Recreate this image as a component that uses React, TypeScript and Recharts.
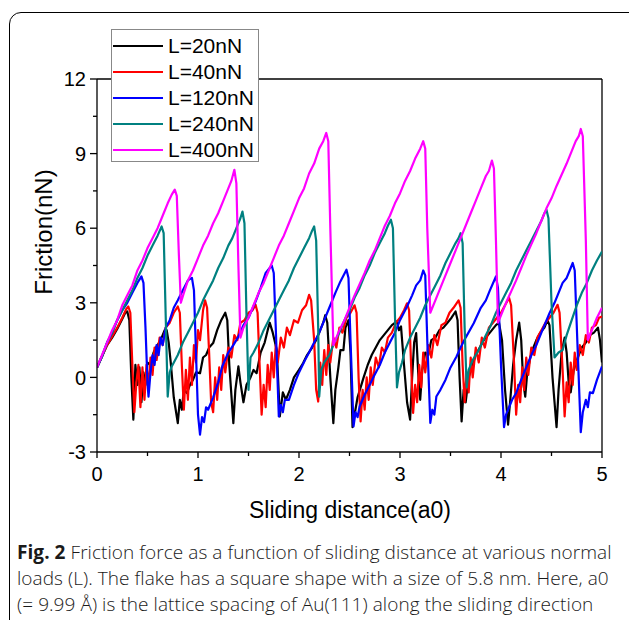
import * as React from 'react';
import { LineChart, Line, XAxis, YAxis, ReferenceLine } from 'recharts';

// friction traces, [sliding distance (a0), friction (nN)]
const load20: [number, number][] = [
  [0, 0.4], [0.05, 0.85], [0.1, 1.3], [0.15, 1.6], [0.2, 1.95], [0.25, 2.35], [0.28, 2.6], [0.3, 2.65], [0.32, 2.3], [0.34, 0.0],
  [0.36, -1.7], [0.38, 0.5], [0.4, -0.3], [0.42, 0.4], [0.44, -1.0], [0.46, 0.2], [0.48, -0.3], [0.5, 0.6], [0.53, 0.5], [0.56, 1.0],
  [0.59, 1.24], [0.63, 1.5], [0.67, 1.9], [0.69, 1.9], [0.71, 1.4], [0.73, 0.6], [0.76, -0.8], [0.8, -1.84], [0.82, -0.9], [0.84, -1.3],
  [0.86, -0.5], [0.89, -0.63], [0.92, -0.3], [0.95, -0.1], [0.98, 0.2], [1.02, 0.17], [1.05, 0.8], [1.08, 0.9], [1.11, 1.2], [1.15, 1.38],
  [1.19, 1.9], [1.23, 2.3], [1.27, 2.6], [1.29, 2.3], [1.31, 0.5], [1.35, -1.84], [1.37, -0.5], [1.4, 0.44], [1.42, -0.2], [1.45, -1.0],
  [1.48, -0.3], [1.52, 0.0], [1.55, 0.3], [1.58, 0.17], [1.62, 1.0], [1.66, 1.4], [1.69, 1.9], [1.71, 2.2], [1.74, 1.8], [1.78, 1.1],
  [1.81, -1.57], [1.84, -0.6], [1.87, -0.9], [1.91, -0.5], [1.95, 0.0], [2.0, 0.3], [2.04, 0.57], [2.08, 0.9], [2.13, 1.2], [2.17, 1.5],
  [2.21, 1.9], [2.24, 2.2], [2.26, 2.5], [2.28, 2.2], [2.31, 0.0], [2.34, -1.84], [2.36, -0.5], [2.39, 0.4], [2.41, 1.1], [2.44, 1.1],
  [2.46, 2.0], [2.49, 2.3], [2.51, 1.0], [2.53, -2.0], [2.55, -1.5], [2.58, -0.8], [2.61, -0.4], [2.64, 0.0], [2.68, 0.5], [2.72, 0.9],
  [2.76, 1.2], [2.8, 1.5], [2.84, 1.7], [2.88, 1.9], [2.92, 2.1], [2.97, 2.25], [2.99, 1.9], [3.01, 2.05], [3.04, 0.5], [3.07, -1.0],
  [3.1, -1.7], [3.12, 0.0], [3.14, 1.4], [3.16, 1.78], [3.18, 0.2], [3.2, -0.9], [3.22, 0.3], [3.25, 1.0], [3.28, 0.9], [3.31, 1.5],
  [3.35, 1.6], [3.39, 1.9], [3.43, 2.0], [3.47, 2.2], [3.51, 2.4], [3.55, 2.65], [3.57, 2.3], [3.59, 0.0], [3.61, -1.77], [3.63, -0.5],
  [3.65, -1.0], [3.68, 0.0], [3.71, 0.4], [3.75, 0.9], [3.79, 1.2], [3.83, 1.5], [3.87, 1.7], [3.91, 1.9], [3.95, 2.1], [3.98, 2.2],
  [4.01, 1.5], [4.04, -0.5], [4.07, -1.9], [4.09, -1.0], [4.12, 0.5], [4.15, 1.5], [4.18, 2.2], [4.2, 1.5], [4.22, -0.2], [4.24, -0.77],
  [4.26, 0.2], [4.29, 0.8], [4.32, 1.2], [4.35, 1.5], [4.39, 1.8], [4.43, 2.0], [4.46, 2.3], [4.48, 2.1], [4.51, 0.0], [4.53, -1.0],
  [4.55, -2.0], [4.57, -0.5], [4.6, 1.0], [4.63, 1.6], [4.65, 1.0], [4.67, -0.2], [4.69, -0.6], [4.72, 0.3], [4.76, 0.8], [4.8, 1.2],
  [4.84, 1.4], [4.88, 1.7], [4.92, 1.8], [4.96, 2.0], [4.98, 1.5], [5.0, 0.6],
];

const load40: [number, number][] = [
  [0, 0.4], [0.05, 0.85], [0.1, 1.3], [0.15, 1.65], [0.2, 2.0], [0.25, 2.4], [0.29, 2.75], [0.31, 2.85], [0.33, 2.6], [0.35, 0.5],
  [0.37, -1.4], [0.39, -0.2], [0.41, 0.5], [0.43, -1.2], [0.45, 0.4], [0.47, -0.9], [0.49, 0.5], [0.51, -0.4], [0.53, 0.8], [0.55, 0.1],
  [0.57, 1.2], [0.59, 0.7], [0.62, 1.6], [0.65, 1.3], [0.68, 2.0], [0.72, 2.2], [0.76, 2.6], [0.8, 2.85], [0.82, 2.6], [0.84, 0.5],
  [0.86, -1.3], [0.88, 0.3], [0.9, -0.9], [0.92, 0.8], [0.94, -0.3], [0.96, 1.3], [0.98, 0.6], [1.0, 1.9], [1.02, 1.5], [1.05, 2.7],
  [1.07, 3.1], [1.09, 2.8], [1.11, 1.0], [1.13, -1.0], [1.15, -1.4], [1.17, 0.0], [1.19, -0.9], [1.21, 0.4], [1.23, -0.5], [1.25, 0.9],
  [1.27, 0.2], [1.3, 1.2], [1.33, 0.8], [1.36, 1.7], [1.39, 1.5], [1.42, 2.2], [1.46, 2.3], [1.5, 2.6], [1.54, 2.7], [1.57, 2.92],
  [1.59, 2.6], [1.61, 0.5], [1.63, -1.5], [1.65, -0.3], [1.67, -1.2], [1.69, 0.5], [1.71, -0.5], [1.73, 1.0], [1.75, 0.0], [1.77, 1.3],
  [1.79, 0.6], [1.82, 1.6], [1.85, 1.2], [1.88, 2.0], [1.91, 1.7], [1.95, 2.3], [1.99, 2.2], [2.03, 2.7], [2.07, 2.9], [2.1, 3.32],
  [2.12, 3.1], [2.15, 1.5], [2.17, -0.5], [2.19, -0.97], [2.21, 0.6], [2.23, -0.3], [2.25, 1.1], [2.27, 0.1], [2.29, 1.3], [2.31, 0.6],
  [2.34, 1.6], [2.37, 1.2], [2.4, 2.0], [2.43, 1.8], [2.47, 2.4], [2.51, 2.6], [2.55, 2.9], [2.57, 2.6], [2.59, 0.0], [2.61, -1.77],
  [2.63, -0.5], [2.65, -1.3], [2.67, 0.0], [2.69, -0.9], [2.71, 0.4], [2.73, -0.3], [2.76, 0.8], [2.79, 0.4], [2.82, 1.2], [2.85, 1.0],
  [2.88, 1.6], [2.92, 1.8], [2.96, 2.2], [3.0, 2.4], [3.04, 2.7], [3.07, 2.98], [3.09, 2.7], [3.11, 0.5], [3.13, -1.43], [3.15, -0.3],
  [3.17, -1.0], [3.19, 0.5], [3.21, -0.4], [3.23, 1.0], [3.25, 0.2], [3.28, 1.3], [3.31, 0.8], [3.34, 1.7], [3.37, 1.3], [3.41, 2.1],
  [3.45, 2.2], [3.49, 2.6], [3.53, 2.8], [3.58, 3.1], [3.6, 2.8], [3.62, 0.5], [3.64, -1.0], [3.66, 0.2], [3.68, -0.6], [3.7, 0.8],
  [3.72, 0.0], [3.75, 1.2], [3.78, 0.6], [3.81, 1.6], [3.84, 1.2], [3.88, 2.0], [3.92, 2.2], [3.96, 2.4], [4.0, 2.6], [4.04, 2.9],
  [4.08, 3.2], [4.1, 2.9], [4.13, 0.5], [4.15, -1.5], [4.17, -0.3], [4.19, -1.0], [4.21, 0.4], [4.23, -0.5], [4.25, 0.8], [4.27, 0.1],
  [4.3, 1.2], [4.33, 0.9], [4.36, 1.6], [4.4, 1.9], [4.44, 2.2], [4.48, 2.4], [4.52, 2.6], [4.56, 2.92], [4.58, 2.6], [4.61, 0.3],
  [4.63, -1.57], [4.65, -0.2], [4.67, -1.0], [4.69, 0.6], [4.71, -0.3], [4.73, 1.0], [4.75, 0.3], [4.78, 1.3], [4.81, 0.9], [4.84, 1.7],
  [4.87, 1.4], [4.9, 2.0], [4.94, 2.1], [4.97, 2.4], [5.0, 2.45],
];

const load120: [number, number][] = [
  [0, 0.4], [0.05, 0.85], [0.1, 1.4], [0.15, 1.8], [0.2, 2.3], [0.25, 2.7], [0.3, 3.0], [0.35, 3.4], [0.4, 3.8], [0.44, 4.06],
  [0.46, 3.8], [0.48, 2.0], [0.5, -0.2], [0.51, -0.77], [0.53, 0.2], [0.55, 0.9], [0.57, 0.5], [0.59, 1.3], [0.61, 0.9], [0.63, 1.6],
  [0.65, 1.3], [0.68, 2.0], [0.72, 2.3], [0.76, 2.8], [0.8, 3.1], [0.85, 3.5], [0.9, 3.9], [0.94, 4.0], [0.96, 3.5], [0.98, 1.0],
  [1.0, -1.5], [1.02, -2.3], [1.04, -1.6], [1.06, -1.8], [1.08, -1.2], [1.1, -1.3], [1.15, -0.8], [1.2, -0.2], [1.24, 0.44], [1.3, 1.0],
  [1.35, 1.3], [1.4, 1.64], [1.45, 2.1], [1.5, 2.4], [1.57, 3.05], [1.62, 3.6], [1.67, 4.2], [1.73, 4.5], [1.75, 4.2], [1.77, 2.0],
  [1.8, -1.57], [1.82, -1.1], [1.84, -1.4], [1.86, -0.9], [1.9, -0.9], [1.95, -0.3], [2.0, 0.2], [2.06, 0.7], [2.1, 1.0], [2.15, 1.4],
  [2.2, 1.8], [2.25, 2.3], [2.3, 2.8], [2.36, 3.4], [2.41, 3.86], [2.47, 4.33], [2.49, 4.0], [2.51, 1.5], [2.54, -1.97], [2.56, -1.4],
  [2.58, -1.6], [2.6, -1.17], [2.65, -0.7], [2.7, -0.3], [2.74, 0.04], [2.8, 0.5], [2.85, 1.0], [2.9, 1.4], [2.95, 1.8], [3.0, 2.3],
  [3.07, 2.85], [3.12, 3.3], [3.16, 3.7], [3.2, 3.9], [3.23, 4.3], [3.25, 4.1], [3.27, 1.5], [3.3, -1.83], [3.32, -1.3], [3.34, -1.5],
  [3.36, -0.77], [3.4, -0.5], [3.45, -0.1], [3.5, 0.4], [3.56, 0.84], [3.6, 1.2], [3.65, 1.6], [3.73, 2.18], [3.8, 2.8], [3.85, 3.1],
  [3.89, 3.5], [3.95, 4.06], [3.97, 3.6], [4.0, 0.5], [4.03, -2.0], [4.05, -1.5], [4.08, -1.2], [4.11, -0.9], [4.15, -0.63], [4.2, -0.1],
  [4.25, 0.4], [4.31, 0.98], [4.35, 1.3], [4.4, 1.8], [4.48, 2.58], [4.53, 3.0], [4.57, 3.4], [4.61, 3.8], [4.65, 4.0], [4.68, 4.3],
  [4.71, 4.6], [4.73, 4.3], [4.76, 1.0], [4.79, -2.2], [4.81, -1.4], [4.84, -0.9], [4.86, -1.2], [4.88, -0.6], [4.91, -0.63], [4.95, -0.1],
  [5.0, 0.44],
];

const load240: [number, number][] = [
  [0, 0.4], [0.05, 0.85], [0.1, 1.4], [0.15, 1.8], [0.2, 2.3], [0.25, 2.7], [0.3, 3.1], [0.35, 3.5], [0.4, 4.0], [0.45, 4.4],
  [0.5, 4.9], [0.55, 5.3], [0.6, 5.7], [0.64, 6.07], [0.66, 5.8], [0.68, 2.5], [0.7, -0.77], [0.72, 0.2], [0.74, 0.44], [0.8, 0.9],
  [0.85, 1.4], [0.9, 1.8], [0.95, 2.2], [1.0, 2.6], [1.05, 3.1], [1.1, 3.5], [1.15, 3.9], [1.2, 4.4], [1.25, 4.8], [1.3, 5.3],
  [1.34, 5.6], [1.38, 6.0], [1.42, 6.4], [1.44, 6.67], [1.46, 6.2], [1.48, 2.5], [1.5, -0.5], [1.52, 0.8], [1.55, 1.0], [1.6, 1.4],
  [1.65, 1.9], [1.7, 2.3], [1.75, 2.7], [1.8, 3.1], [1.85, 3.5], [1.9, 3.9], [1.95, 4.4], [2.0, 4.8], [2.05, 5.2], [2.1, 5.6],
  [2.13, 5.9], [2.15, 6.07], [2.17, 5.5], [2.19, 2.0], [2.2, -0.77], [2.22, 0.3], [2.25, 0.6], [2.3, 0.9], [2.35, 1.4], [2.4, 1.8],
  [2.45, 2.3], [2.5, 2.7], [2.55, 3.2], [2.6, 3.6], [2.65, 4.1], [2.7, 4.5], [2.75, 5.0], [2.8, 5.4], [2.85, 5.8], [2.88, 6.1],
  [2.91, 6.34], [2.93, 6.0], [2.95, 2.5], [2.97, -0.4], [2.99, 0.2], [3.02, 0.6], [3.05, 1.1], [3.1, 1.6], [3.15, 2.0], [3.2, 2.4],
  [3.25, 2.9], [3.3, 3.3], [3.35, 3.7], [3.4, 4.1], [3.45, 4.6], [3.5, 5.0], [3.55, 5.4], [3.58, 5.6], [3.6, 5.8], [3.62, 5.4],
  [3.64, 2.0], [3.66, -0.4], [3.68, 0.3], [3.72, 0.7], [3.78, 1.1], [3.85, 1.7], [3.9, 2.1], [3.95, 2.6], [4.0, 3.0], [4.05, 3.4],
  [4.1, 3.8], [4.15, 4.3], [4.2, 4.7], [4.25, 5.1], [4.3, 5.5], [4.35, 5.9], [4.4, 6.3], [4.43, 6.6], [4.45, 6.74], [4.47, 6.4],
  [4.5, 3.0], [4.53, 0.8], [4.57, 1.0], [4.61, 1.1], [4.65, 1.7], [4.7, 2.3], [4.75, 2.9], [4.8, 3.4], [4.85, 3.8], [4.9, 4.3],
  [4.95, 4.7], [5.0, 5.06],
];

const load400: [number, number][] = [
  [0, 0.4], [0.05, 0.9], [0.1, 1.4], [0.15, 1.9], [0.2, 2.3], [0.25, 2.9], [0.3, 3.3], [0.35, 3.7], [0.4, 4.3], [0.45, 4.7],
  [0.5, 5.2], [0.55, 5.6], [0.6, 6.0], [0.65, 6.5], [0.7, 7.0], [0.74, 7.35], [0.77, 7.55], [0.79, 7.3], [0.81, 5.0], [0.83, 3.0],
  [0.86, 3.4], [0.9, 3.9], [0.95, 4.3], [1.0, 4.8], [1.05, 5.3], [1.1, 5.7], [1.15, 6.2], [1.2, 6.6], [1.25, 7.1], [1.3, 7.6],
  [1.33, 7.9], [1.36, 8.35], [1.38, 7.8], [1.4, 4.5], [1.42, 1.6], [1.45, 2.0], [1.5, 2.4], [1.55, 2.9], [1.6, 3.4], [1.65, 3.8],
  [1.7, 4.3], [1.75, 4.8], [1.8, 5.3], [1.85, 5.7], [1.9, 6.2], [1.95, 6.7], [2.0, 7.2], [2.05, 7.6], [2.1, 8.2], [2.15, 8.6],
  [2.2, 9.2], [2.24, 9.5], [2.27, 9.83], [2.29, 9.5], [2.31, 6.0], [2.34, 1.3], [2.4, 1.9], [2.45, 2.3], [2.5, 2.8], [2.55, 3.3],
  [2.6, 3.75], [2.65, 4.2], [2.7, 4.7], [2.75, 5.1], [2.8, 5.6], [2.85, 6.1], [2.9, 6.5], [2.95, 7.0], [3.0, 7.4], [3.05, 7.9],
  [3.1, 8.3], [3.15, 8.8], [3.2, 9.2], [3.23, 9.5], [3.25, 9.2], [3.27, 6.0], [3.3, 2.6], [3.35, 3.1], [3.4, 3.6], [3.45, 4.1],
  [3.5, 4.6], [3.55, 5.1], [3.6, 5.6], [3.65, 6.1], [3.7, 6.6], [3.75, 7.1], [3.8, 7.6], [3.85, 8.1], [3.88, 8.3], [3.91, 8.72],
  [3.93, 8.4], [3.95, 5.5], [3.97, 2.2], [4.0, 2.5], [4.05, 3.0], [4.1, 3.45], [4.15, 3.9], [4.2, 4.4], [4.25, 4.9], [4.3, 5.35],
  [4.35, 5.8], [4.4, 6.3], [4.45, 6.8], [4.5, 7.2], [4.55, 7.7], [4.6, 8.15], [4.65, 8.6], [4.7, 9.1], [4.74, 9.5], [4.77, 9.7],
  [4.79, 9.99], [4.81, 9.7], [4.84, 5.5], [4.86, 1.5], [4.9, 1.9], [4.95, 2.4], [5.0, 2.8],
];

const xTicks = [0, 0.5, 1, 1.5, 2, 2.5, 3, 3.5, 4, 4.5, 5];
const yTicks = [-3, -1.5, 0, 1.5, 3, 4.5, 6, 7.5, 9, 10.5, 12];

const series = [
  { name: 'L=20nN', color: '#000000', points: load20 },
  { name: 'L=40nN', color: '#ff0000', points: load40 },
  { name: 'L=120nN', color: '#0000ff', points: load120 },
  { name: 'L=240nN', color: '#008080', points: load240 },
  { name: 'L=400nN', color: '#ff00ff', points: load400 },
];

const FONT = '"Liberation Sans", Arial, sans-serif';

function YTick(props: any) {
  const { x, y, payload } = props;
  const major = payload.value % 3 === 0;
  return (
    <g>
      <line x1={x - (major ? 7 : 4)} x2={x} y1={y} y2={y} stroke="#000" strokeWidth={1.3} />
      {major && (
        <text x={x - 11} y={y} dy="0.36em" textAnchor="end" fontSize={20} fontFamily={FONT} fill="#000">
          {payload.value}
        </text>
      )}
    </g>
  );
}

function XTick(props: any) {
  const { x, y, payload } = props;
  const major = Number.isInteger(payload.value);
  return (
    <g>
      <line x1={x} x2={x} y1={y} y2={y + (major ? 6 : 4)} stroke="#000" strokeWidth={1.3} />
      {major && (
        <text x={x} y={y + 22} dy="0.36em" textAnchor="middle" fontSize={20} fontFamily={FONT} fill="#000">
          {payload.value}
        </text>
      )}
    </g>
  );
}

function Legend() {
  return (
    <div
      style={{
        position: 'absolute', left: 111, top: 29, width: 146, height: 131,
        border: '1px solid #888', background: '#fff', fontFamily: FONT, fontSize: 21,
      }}
    >
      {series.map((s, i) => (
        <div key={s.name} style={{ position: 'absolute', left: 0, top: 3 + i * 26, height: 26, display: 'flex', alignItems: 'center' }}>
          <div style={{ width: 50, height: 2.5, background: s.color, marginLeft: 1 }} />
          <span style={{ marginLeft: 5, color: '#000' }}>{s.name}</span>
        </div>
      ))}
    </div>
  );
}

export default function App() {
  return (
    <div style={{ position: 'fixed', left: 0, top: 0, width: 629, height: 620, overflow: 'hidden', background: '#fff' }}>
      <div
        style={{
          position: 'absolute', left: 9, top: 12, width: 700, height: 700,
          border: '1.5px solid #000', borderRadius: 12, boxSizing: 'border-box',
        }}
      />
      <div style={{ position: 'absolute', left: 0, top: 0 }}>
        <LineChart width={629} height={620} margin={{ top: 79, right: 27, bottom: 128, left: 0 }}>
          <XAxis
            dataKey="x"
            type="number"
            domain={[0, 5]}
            ticks={xTicks}
            allowDataOverflow
            height={40}
            tickSize={0}
            tickMargin={0}
            tickLine={false}
            axisLine={{ stroke: '#000', strokeWidth: 1.3 }}
            tick={<XTick />}
            interval={0}
          />
          <YAxis
            type="number"
            domain={[-3, 12]}
            ticks={yTicks}
            allowDataOverflow
            width={97}
            tickSize={0}
            tickMargin={0}
            tickLine={false}
            axisLine={{ stroke: '#000', strokeWidth: 1.3 }}
            tick={<YTick />}
            interval={0}
          />
          <ReferenceLine y={12} stroke="#000" strokeWidth={1.3} />
          <ReferenceLine x={5} stroke="#000" strokeWidth={1.3} />
          {series.map((s) => (
            <Line
              key={s.name}
              data={s.points.map(([x, y]) => ({ x, y }))}
              dataKey="y"
              name={s.name}
              type="linear"
              stroke={s.color}
              strokeWidth={2.2}
              strokeLinejoin="round"
              dot={false}
              isAnimationActive={false}
            />
          ))}
        </LineChart>
      </div>
      <Legend />
      <div
        style={{
          position: 'absolute', left: 44, top: 232, transform: 'translate(-50%, -50%) rotate(-90deg)',
          fontFamily: FONT, fontSize: 24, whiteSpace: 'nowrap', color: '#000',
        }}
      >
        Friction(nN)
      </div>
      <div
        style={{
          position: 'absolute', left: 350, top: 510, transform: 'translate(-50%, -50%)',
          fontFamily: FONT, fontSize: 23, whiteSpace: 'nowrap', color: '#000',
        }}
      >
        Sliding distance(a0)
      </div>
      <div
        style={{
          position: 'absolute', left: 17, top: 539, fontFamily: '"Open Sans", sans-serif', fontSize: 19,
          lineHeight: '26px', color: '#1a1a1a', whiteSpace: 'nowrap', letterSpacing: 0.06,
        }}
      >
        {[
          <><b style={{ fontWeight: 700 }}>Fig. 2</b> Friction force as a function of sliding distance at various normal</>,
          <>loads (L). The flake has a square shape with a size of 5.8 nm. Here, a0</>,
          <>(= 9.99 Å) is the lattice spacing of Au(111) along the sliding direction</>,
        ].map((line, i) => (
          <div key={i} style={{ fontWeight: 300 }}>
            {line}
          </div>
        ))}
      </div>
    </div>
  );
}
